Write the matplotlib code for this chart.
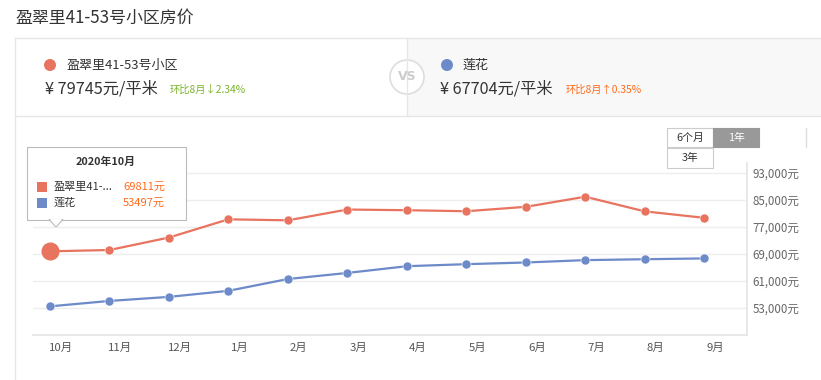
import matplotlib
matplotlib.use("Agg")
import matplotlib.pyplot as plt
from matplotlib.patches import Rectangle, Circle, Polygon
from matplotlib.ticker import FuncFormatter
import matplotlib.transforms as mtransforms

plt.rcParams['font.family'] = ['Noto Sans CJK SC', 'DejaVu Sans']

# data
months = ['10月', '11月', '12月', '1月', '2月', '3月', '4月', '5月', '6月', '7月', '8月', '9月']
yingcuili = [69811, 70200, 73900, 79300, 79000, 82200, 82000, 81700, 83000, 86000, 81656, 79745]
lianhua = [53497, 55100, 56300, 58100, 61600, 63400, 65400, 66000, 66500, 67200, 67468, 67704]
y_ticks = [53000, 61000, 69000, 77000, 85000, 93000]

name_a = '盈翠里41-53号小区'
name_b = '莲花'
price_a = '¥ 79745元/平米'
price_b = '¥ 67704元/平米'
change_a = '环比8月↓2.34%'
change_b = '环比8月↑0.35%'
title = '盈翠里41-53号小区房价'
tip_title = '2020年10月'

RED = '#e8735f'
BLUE = '#6d8ac9'
W, H = 821, 380

fig = plt.figure(figsize=(W / 100, H / 100), dpi=100)


def px_axes(x0, y0, x1, y1):
    # rectangle in pixels (top-left origin) -> figure fraction
    return [x0 / W, 1 - y1 / H, (x1 - x0) / W, (y1 - y0) / H]


# main chart
ax = fig.add_axes(px_axes(33, 163, 747, 335))
x = list(range(len(months)))
ax.plot(x, yingcuili, color=RED, lw=1.6, marker='o', ms=6.5, mec='white', mew=0.4, zorder=3)
ax.plot(x, lianhua, color=BLUE, lw=1.6, marker='o', ms=6.5, mec='white', mew=0.4, zorder=3)
ax.plot([0], [yingcuili[0]], 'o', color=RED, ms=12, zorder=4)
ax.set_xlim(-0.286, 11.72)
ax.set_ylim(45000, 96000)
ax.set_yticks(y_ticks)
ax.yaxis.tick_right()
ax.yaxis.set_major_formatter(FuncFormatter(lambda v, p: f'{int(v):,}元'))
ax.tick_params(axis='y', length=0, pad=4, labelsize=8.3, labelcolor='#666666')
ax.set_xticks(x)
ax.set_xticklabels(months)
ax.tick_params(axis='x', length=0, pad=6, labelsize=8.2, labelcolor='#555555')
offset = mtransforms.ScaledTranslation(11 / 100, 0, fig.dpi_scale_trans)
for lab in ax.get_xticklabels():
    lab.set_transform(lab.get_transform() + offset)
ax.grid(axis='y', color='#eeeeee', lw=1)
for s in ['top', 'left']:
    ax.spines[s].set_visible(False)
ax.spines['bottom'].set_color('#e6e6e6')
ax.spines['bottom'].set_linewidth(1.3)
ax.spines['right'].set_color('#e6e6e6')
ax.spines['right'].set_linewidth(1.3)

# overlay in pixel coordinates
ov = fig.add_axes([0, 0, 1, 1], zorder=10)
ov.set_xlim(0, W)
ov.set_ylim(H, 0)
ov.axis('off')
ov.patch.set_alpha(0)

ov.text(15, 18, title, fontsize=12.2, color='#333333', va='center', ha='left')

# comparison card
ov.add_patch(Rectangle((407, 38), 420, 78, facecolor='#f8f8f8', edgecolor='none'))
ov.plot([15, 821], [38, 38], color='#e6e6e6', lw=1)
ov.plot([15, 821], [116, 116], color='#e6e6e6', lw=1)
ov.plot([15, 15], [38, 380], color='#e6e6e6', lw=1)
ov.plot([407, 407], [38, 116], color='#e6e6e6', lw=1)
ov.add_patch(Circle((407, 77), 17, facecolor='white', edgecolor='#dddddd', lw=1.2))
ov.text(407, 77, 'VS', fontsize=9, color='#cccccc', ha='center', va='center',
        fontweight='bold', family='DejaVu Sans')

ov.add_patch(Circle((50, 65), 6, facecolor=RED, edgecolor='none'))
ov.text(67, 65, name_a, fontsize=9.4, color='#333333', va='center')
ov.text(45, 89, price_a, fontsize=11.7, color='#333333', va='center')
ov.text(170, 90, change_a, fontsize=7.4, color='#7cb32a', va='center')

ov.add_patch(Circle((447, 65), 6, facecolor=BLUE, edgecolor='none'))
ov.text(462, 65, name_b, fontsize=9.4, color='#333333', va='center')
ov.text(440, 89, price_b, fontsize=11.7, color='#333333', va='center')
ov.text(566, 90, change_b, fontsize=7.4, color='#ff6a1a', va='center')

# range buttons
ov.add_patch(Rectangle((667, 128), 46, 19, facecolor='white', edgecolor='#cccccc', lw=0.8))
ov.add_patch(Rectangle((713, 128), 46, 19, facecolor='#999999', edgecolor='#999999', lw=0.8))
ov.add_patch(Rectangle((667, 148), 46, 20, facecolor='white', edgecolor='#cccccc', lw=0.8))
ov.text(690, 137.5, '6个月', fontsize=7.8, color='#333333', ha='center', va='center')
ov.text(736, 137.5, '1年', fontsize=7.8, color='white', ha='center', va='center')
ov.text(690, 158, '3年', fontsize=7.8, color='#333333', ha='center', va='center')
ov.plot([806, 806], [128, 147], color='#dddddd', lw=1)

# tooltip
ov.add_patch(Polygon([(49, 219.5), (56, 227), (63, 219.5)], closed=True,
                     facecolor='white', edgecolor='#bbbbbb', lw=0.8, zorder=2))
ov.add_patch(Rectangle((27, 147), 159, 73, facecolor='white', edgecolor='#bbbbbb', lw=0.8, zorder=1))
ov.add_patch(Polygon([(50, 219), (56, 225.5), (62, 219)], closed=True,
                     facecolor='white', edgecolor='none', zorder=3))
ov.text(106, 162, tip_title, fontsize=7.8, fontweight='bold', color='#333333',
        ha='center', va='center', zorder=4)
ov.add_patch(Rectangle((37, 182), 10, 10, facecolor=RED, edgecolor='none', zorder=4))
ov.add_patch(Rectangle((37, 198), 10, 10, facecolor=BLUE, edgecolor='none', zorder=4))
ov.text(54, 187, '盈翠里41-...', fontsize=8, color='#333333', va='center', zorder=4)
ov.text(54, 203, name_b, fontsize=8, color='#333333', va='center', zorder=4)
ov.text(123, 187, f'{yingcuili[0]}元', fontsize=8, color='#ff6a1a', va='center', zorder=4)
ov.text(123, 203, f'{lianhua[0]}元', fontsize=8, color='#ff6a1a', va='center', zorder=4)

fig.savefig('out.png', dpi=100)
